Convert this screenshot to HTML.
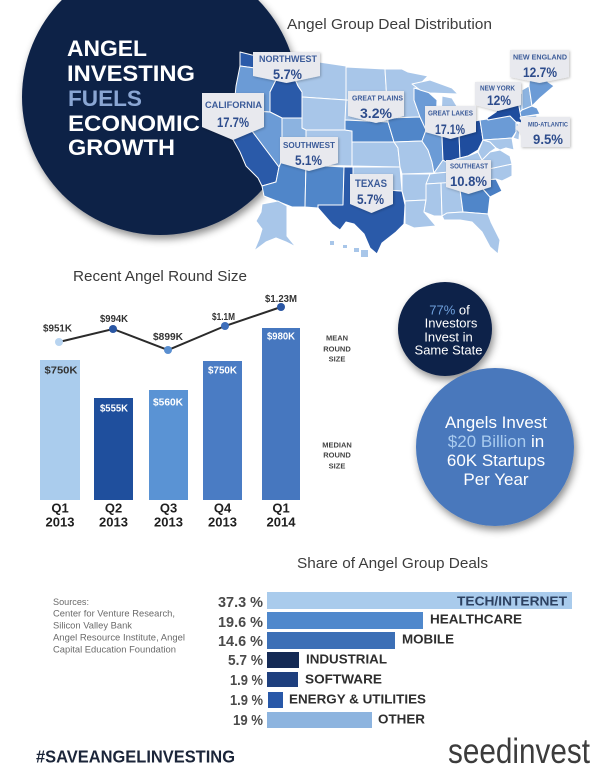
<!DOCTYPE html>
<html><head><meta charset="utf-8"><style>
html,body{margin:0;padding:0;background:#fff;}
svg{display:block;}
text{font-family:"Liberation Sans",Arial,sans-serif;}
</style></head><body>
<svg width="600" height="776" viewBox="0 0 600 776" xmlns="http://www.w3.org/2000/svg">
<defs>
<filter id="sh" x="-20%" y="-20%" width="150%" height="150%"><feDropShadow dx="2" dy="4" stdDeviation="4" flood-color="#000" flood-opacity="0.45"/></filter>
<filter id="sh2" x="-20%" y="-20%" width="150%" height="150%"><feDropShadow dx="1" dy="1" stdDeviation="1.2" flood-color="#000" flood-opacity="0.25"/></filter>
</defs>
<rect width="600" height="776" fill="#fff"/>

<!-- Title circle -->
<circle cx="160" cy="97" r="138" fill="#0e2247" filter="url(#sh)"/>
<g font-weight="bold" font-size="22.5" fill="#fff">
<text x="67" y="56" textLength="80" lengthAdjust="spacingAndGlyphs">ANGEL</text>
<text x="67" y="81" textLength="128" lengthAdjust="spacingAndGlyphs">INVESTING</text>
<text x="68" y="106" textLength="74" lengthAdjust="spacingAndGlyphs" fill="#8aa6d3">FUELS</text>
<text x="68" y="131" textLength="132" lengthAdjust="spacingAndGlyphs">ECONOMIC</text>
<text x="68" y="155" textLength="107" lengthAdjust="spacingAndGlyphs">GROWTH</text>
</g>

<text x="287" y="29" font-size="15" fill="#3d3d3d" textLength="205" lengthAdjust="spacingAndGlyphs">Angel Group Deal Distribution</text>

<!-- Map -->
<g stroke="#fff" stroke-width="1" stroke-linejoin="round">
<polygon fill="#2a5aa9" points="240,52 252,55 286,58 286,70 262,69 240,66"/>
<polygon fill="#6b9bd6" points="240,66 262,69 286,70 276,80 270,92 270,112 252,111 234,106 236,86"/>
<polygon fill="#2a5aa9" points="286,58 292,58 292,72 298,86 302,92 302,118 282,118 270,112 270,92 276,80 286,70"/>
<polygon fill="#2a5aa9" points="234,106 252,111 252,131 279,167 276,182 262,186 258,178 246,166 240,152 231,136 229,120"/>
<polygon fill="#6b9bd6" points="252,111 270,112 282,118 282,160 279,167 252,131"/>
<polygon fill="#8cb3e0" points="282,118 302,118 302,128 306,128 306,163 282,163 282,160"/>
<polygon fill="#a8c6e9" points="292,58 346,66 346,100 302,97 302,92 298,86 292,72"/>
<polygon fill="#a8c6e9" points="302,97 346,100 345,130 306,130 302,128"/>
<polygon fill="#5086c9" points="282,163 306,163 305,207 292,207 264,196 262,186 276,182 279,167 282,160"/>
<polygon fill="#a8c6e9" points="306,130 345,130 352,131 352,166 306,165"/>
<polygon fill="#5086c9" points="306,165 344,167 343,205 318,205 318,208 305,207"/>
<polygon fill="#2a5aa9" points="344,167 353,167 353,186 372,189 402,191 405,205 404,224 396,232 382,243 377,254 370,248 364,234 354,224 346,222 340,230 332,224 318,208 318,205 343,205"/>
<polygon fill="#a8c6e9" points="353,167 400,167 402,191 372,189 353,186"/>
<polygon fill="#a8c6e9" points="352,142 394,142 398,148 400,167 352,166"/>
<polygon fill="#a8c6e9" points="346,67 385,69 387,102 346,100"/>
<polygon fill="#a8c6e9" points="346,100 387,102 388,122 345,120"/>
<polygon fill="#5086c9" points="345,120 388,122 394,142 352,142 352,131 345,130"/>
<polygon fill="#a8c6e9" points="385,69 402,69 408,72 428,76 414,90 414,100 420,117 388,118 387,102"/>
<polygon fill="#5086c9" points="388,118 420,117 426,130 422,141 394,142 388,122"/>
<polygon fill="#a8c6e9" points="394,142 422,141 428,150 432,162 434,173 402,174 400,167 398,148"/>
<polygon fill="#a8c6e9" points="402,174 430,174 426,200 405,201 402,191"/>
<polygon fill="#a8c6e9" points="405,201 426,200 424,212 436,226 414,228 405,224"/>
<polygon fill="#6b9bd6" points="414,88 428,92 437,100 436,128 426,130 420,117 414,100"/>
<polygon fill="#6b9bd6" points="426,130 437,130 442,137 443,160 434,173 432,162 428,150 422,141"/>
<polygon fill="#a8c6e9" points="412,84 430,80 452,88 458,94 430,93 420,90"/>
<polygon fill="#a8c6e9" points="442,96 452,98 458,108 464,116 470,120 464,132 459,134 442,136 441,120"/>
<polygon fill="#1f4d9e" points="442,136 459,134 460,158 446,162 443,160"/>
<polygon fill="#1f4d9e" points="459,124 470,122 480,120 483,140 478,150 468,156 460,158 459,134"/>
<polygon fill="#a8c6e9" points="434,173 443,160 446,162 460,158 468,156 478,152 482,160 474,170 438,173"/>
<polygon fill="#a8c6e9" points="430,174 438,173 474,170 484,170 478,181 426,184"/>
<polygon fill="#a8c6e9" points="426,184 441,183 442,216 434,216 424,212 426,200"/>
<polygon fill="#a8c6e9" points="441,183 459,182 463,212 447,213 442,216"/>
<polygon fill="#5086c9" points="459,182 476,181 490,197 488,214 463,212"/>
<polygon fill="#a8c6e9" points="442,216 447,213 463,212 488,214 491,222 500,240 498,254 490,247 482,232 472,222 460,220 444,220"/>
<polygon fill="#4a7fc4" points="476,181 496,179 502,191 490,197"/>
<polygon fill="#a8c6e9" points="478,181 484,170 512,164 512,176 502,181 496,179 476,181"/>
<polygon fill="#a8c6e9" points="474,170 482,160 490,152 500,150 510,156 512,164 484,170"/>
<polygon fill="#a8c6e9" points="478,152 483,140 490,142 496,148 490,152 482,160"/>
<polygon fill="#6b9bd6" points="480,120 510,116 516,122 516,132 512,138 483,140"/>
<polygon fill="#1f4d9e" points="487,118 496,112 502,102 514,96 518,100 520,112 524,124 518,122 516,122 510,116 488,120"/>
<polygon fill="#a8c6e9" points="516,122 520,126 519,140 513,138 516,132"/>
<polygon fill="#a8c6e9" points="483,140 512,138 514,150 506,148 500,150 496,148 490,142"/>
<polygon fill="#8cb3e0" points="514,96 522,93 522,110 520,112 518,100"/>
<polygon fill="#8cb3e0" points="522,90 529,86 532,106 522,110"/>
<polygon fill="#6b9bd6" points="529,86 530,74 538,70 543,72 548,82 554,86 540,98 532,106"/>
<polygon fill="#6b9bd6" points="520,112 522,110 532,106 537,108 540,114 521,117"/>
<polygon fill="#a8c6e9" points="521,117 537,115 536,122 524,124 520,118"/>
<!-- Alaska & Hawaii -->
<polygon fill="#a8c6e9" points="262,204 278,201 287,206 287,236 296,247 286,242 276,238 266,242 254,251 259,239 262,229 256,221 261,212"/>
<polygon fill="#a8c6e9" stroke="none" points="330,241 334,241 334,245 330,245"/>
<polygon fill="#a8c6e9" stroke="none" points="343,245 347,245 347,248 343,248"/>
<polygon fill="#a8c6e9" stroke="none" points="354,248 359,248 359,252 354,252"/>
<polygon fill="#a8c6e9" stroke="none" points="361,250 368,250 368,257 361,257"/>
</g>

<!-- Callouts -->
<g fill="#e8e9ee" filter="url(#sh2)">
<polygon points="253,52 320,52 320,76 286.5,83 253,76"/>
<polygon points="202,93 264,93 264,127 233,140 202,127"/>
<polygon points="348,91 404,91 404,116 376,123 348,116"/>
<polygon points="280,137 338,137 338,163 309,171 280,163"/>
<polygon points="350,174 393,174 393,204 371.5,213 350,204"/>
<polygon points="425,106 476,106 476,132 450.5,139 425,132"/>
<polygon points="475,82 521,82 521,105 498,111 475,105"/>
<polygon points="510,50 569,50 569,77 539.5,83 510,77"/>
<polygon points="521,117 570,117 570,147 521,147 521,134 515,128 521,122"/>
<polygon points="446,160 491,160 491,187 468.5,194 446,187"/>
</g>
<g font-weight="bold" fill="#3b5b99" text-anchor="middle">
<text x="288" y="62.2" font-size="9" textLength="58" lengthAdjust="spacingAndGlyphs">NORTHWEST</text>
<text x="233.5" y="108.2" font-size="9" textLength="57" lengthAdjust="spacingAndGlyphs">CALIFORNIA</text>
<text x="377.5" y="100.7" font-size="7.5" textLength="51" lengthAdjust="spacingAndGlyphs">GREAT PLAINS</text>
<text x="309" y="148" font-size="8.5" textLength="52" lengthAdjust="spacingAndGlyphs">SOUTHWEST</text>
<text x="371" y="187" font-size="11" textLength="32" lengthAdjust="spacingAndGlyphs">TEXAS</text>
<text x="450.5" y="115.7" font-size="7.5" textLength="45" lengthAdjust="spacingAndGlyphs">GREAT LAKES</text>
<text x="497.5" y="90.7" font-size="7.5" textLength="35" lengthAdjust="spacingAndGlyphs">NEW YORK</text>
<text x="540" y="59.7" font-size="7.5" textLength="54" lengthAdjust="spacingAndGlyphs">NEW ENGLAND</text>
<text x="548" y="126.3" font-size="6.5" textLength="40" lengthAdjust="spacingAndGlyphs">MID-ATLANTIC</text>
<text x="469" y="168.5" font-size="7" textLength="38" lengthAdjust="spacingAndGlyphs">SOUTHEAST</text>
</g>
<g font-weight="bold" fill="#2d4c8c" text-anchor="middle" font-size="14">
<text x="287.5" y="79" textLength="29" lengthAdjust="spacingAndGlyphs">5.7%</text>
<text x="233" y="127" textLength="32" lengthAdjust="spacingAndGlyphs">17.7%</text>
<text x="376" y="118" textLength="32" lengthAdjust="spacingAndGlyphs">3.2%</text>
<text x="308.5" y="165" textLength="27" lengthAdjust="spacingAndGlyphs">5.1%</text>
<text x="370.5" y="204" textLength="27" lengthAdjust="spacingAndGlyphs">5.7%</text>
<text x="450" y="134" textLength="30" lengthAdjust="spacingAndGlyphs">17.1%</text>
<text x="499" y="105" textLength="24" lengthAdjust="spacingAndGlyphs">12%</text>
<text x="540" y="77" textLength="34" lengthAdjust="spacingAndGlyphs">12.7%</text>
<text x="548" y="144" textLength="30" lengthAdjust="spacingAndGlyphs">9.5%</text>
<text x="468.5" y="186" textLength="37" lengthAdjust="spacingAndGlyphs">10.8%</text>
</g>

<!-- Bar chart -->
<text x="73" y="281" font-size="15" fill="#3a3a3a" textLength="174" lengthAdjust="spacingAndGlyphs">Recent Angel Round Size</text>
<rect x="40" y="360" width="40" height="140" fill="#aacced"/>
<rect x="94" y="398" width="39" height="102" fill="#1f4f9d"/>
<rect x="149" y="390" width="39" height="110" fill="#5a93d4"/>
<rect x="203" y="361" width="39" height="139" fill="#4a7cc4"/>
<rect x="262" y="328" width="38" height="172" fill="#4677bf"/>
<g font-weight="bold" font-size="10" text-anchor="middle">
<text x="61" y="373.6" fill="#333" textLength="33" lengthAdjust="spacingAndGlyphs">$750K</text>
<text x="114" y="411.6" fill="#fff" textLength="28" lengthAdjust="spacingAndGlyphs">$555K</text>
<text x="168" y="405.6" fill="#fff" textLength="30" lengthAdjust="spacingAndGlyphs">$560K</text>
<text x="222.5" y="373.6" fill="#fff" textLength="29" lengthAdjust="spacingAndGlyphs">$750K</text>
<text x="281" y="339.6" fill="#fff" textLength="28" lengthAdjust="spacingAndGlyphs">$980K</text>
</g>
<polyline points="59,342 113,329 168,350 225,326 281,307" fill="none" stroke="#2b2b2b" stroke-width="2"/>
<circle cx="59" cy="342" r="4" fill="#b8d4f0"/>
<circle cx="113" cy="329" r="4" fill="#2a56a3"/>
<circle cx="168" cy="350" r="4" fill="#5a8fd0"/>
<circle cx="225" cy="326" r="4" fill="#3f6fbb"/>
<circle cx="281" cy="307" r="4" fill="#2a56a3"/>
<g font-weight="bold" font-size="10" text-anchor="middle" fill="#333">
<text x="57.5" y="331.6" textLength="29" lengthAdjust="spacingAndGlyphs">$951K</text>
<text x="114" y="322" textLength="28" lengthAdjust="spacingAndGlyphs">$994K</text>
<text x="168" y="340" textLength="30" lengthAdjust="spacingAndGlyphs">$899K</text>
<text x="223.5" y="320" textLength="23" lengthAdjust="spacingAndGlyphs">$1.1M</text>
<text x="281" y="302" textLength="32" lengthAdjust="spacingAndGlyphs">$1.23M</text>
</g>
<g font-weight="bold" font-size="7.5" text-anchor="middle" fill="#444">
<text x="337" y="340.7">MEAN</text>
<text x="337" y="351.7">ROUND</text>
<text x="337" y="361.7">SIZE</text>
<text x="337" y="447.7">MEDIAN</text>
<text x="337" y="457.7">ROUND</text>
<text x="337" y="468.7">SIZE</text>
</g>
<g font-weight="bold" font-size="13" text-anchor="middle" fill="#1f1f1f">
<text x="60" y="512.7">Q1</text><text x="60" y="526.7">2013</text>
<text x="113.5" y="512.7">Q2</text><text x="113.5" y="526.7">2013</text>
<text x="168.5" y="512.7">Q3</text><text x="168.5" y="526.7">2013</text>
<text x="222.5" y="512.7">Q4</text><text x="222.5" y="526.7">2013</text>
<text x="281" y="512.7">Q1</text><text x="281" y="526.7">2014</text>
</g>

<!-- Circles -->
<circle cx="445" cy="329" r="47" fill="#0f2349" filter="url(#sh)"/>
<g font-size="13" fill="#fff" text-anchor="middle">
<text x="449.5" y="314.5"><tspan fill="#6fa0dc">77%</tspan> of</text>
<text x="451" y="327.5">Investors</text>
<text x="448.5" y="341.5">Invest in</text>
<text x="448.5" y="354.5">Same State</text>
</g>
<circle cx="495" cy="447" r="79" fill="#4a78bc" filter="url(#sh)"/>
<g font-size="17" fill="#fff" text-anchor="middle">
<text x="496" y="428">Angels Invest</text>
<text x="496" y="447"><tspan fill="#a9cbef">$20 Billion</tspan> in</text>
<text x="496" y="466">60K Startups</text>
<text x="496" y="485">Per Year</text>
</g>

<!-- Share of Angel Group Deals -->
<text x="297" y="568" font-size="15" fill="#3d3d3d" textLength="191" lengthAdjust="spacingAndGlyphs">Share of Angel Group Deals</text>
<g font-size="9" fill="#6a6a6a">
<text x="53" y="605" textLength="36" lengthAdjust="spacingAndGlyphs">Sources:</text>
<text x="53" y="616.5" textLength="122" lengthAdjust="spacingAndGlyphs">Center for Venture Research,</text>
<text x="53" y="628.5" textLength="79" lengthAdjust="spacingAndGlyphs">Silicon Valley Bank</text>
<text x="53" y="640.5" textLength="132" lengthAdjust="spacingAndGlyphs">Angel Resource Institute, Angel</text>
<text x="53" y="652.5" textLength="123" lengthAdjust="spacingAndGlyphs">Capital Education Foundation</text>
</g>
<rect x="267" y="592" width="305" height="17" fill="#a9cbec"/>
<rect x="267" y="612" width="156" height="17" fill="#4f88cc"/>
<rect x="267" y="632" width="128" height="17" fill="#3c6fb6"/>
<rect x="267" y="652" width="32" height="16" fill="#142a55"/>
<rect x="267" y="672" width="31" height="15" fill="#1e3f7e"/>
<rect x="268" y="692" width="15" height="16" fill="#2858a8"/>
<rect x="267" y="712" width="105" height="16" fill="#8db4df"/>
<g font-weight="bold" font-size="14.5" fill="#4a4a4a" text-anchor="end">
<text x="263" y="607.2" textLength="45" lengthAdjust="spacingAndGlyphs">37.3 %</text>
<text x="263" y="627.2" textLength="45" lengthAdjust="spacingAndGlyphs">19.6 %</text>
<text x="263" y="646.2" textLength="45" lengthAdjust="spacingAndGlyphs">14.6 %</text>
<text x="263" y="665.2" textLength="35" lengthAdjust="spacingAndGlyphs">5.7 %</text>
<text x="263" y="685.2" textLength="33" lengthAdjust="spacingAndGlyphs">1.9 %</text>
<text x="263" y="705.2" textLength="33" lengthAdjust="spacingAndGlyphs">1.9 %</text>
<text x="263" y="725.2" textLength="30" lengthAdjust="spacingAndGlyphs">19 %</text>
</g>
<g font-weight="bold" font-size="13" fill="#2e2e2e">
<text x="567" y="605.7" text-anchor="end" fill="#2c4060" textLength="110" lengthAdjust="spacingAndGlyphs">TECH/INTERNET</text>
<text x="430" y="623.7" textLength="92" lengthAdjust="spacingAndGlyphs">HEALTHCARE</text>
<text x="402" y="643.7" textLength="52" lengthAdjust="spacingAndGlyphs">MOBILE</text>
<text x="306" y="663.7" textLength="81" lengthAdjust="spacingAndGlyphs">INDUSTRIAL</text>
<text x="305" y="683.7" textLength="77" lengthAdjust="spacingAndGlyphs">SOFTWARE</text>
<text x="289" y="703.7" textLength="137" lengthAdjust="spacingAndGlyphs">ENERGY &amp; UTILITIES</text>
<text x="378" y="723.7" textLength="47" lengthAdjust="spacingAndGlyphs">OTHER</text>
</g>

<!-- Footer -->
<text x="36" y="762.3" font-weight="bold" font-size="17.5" fill="#1b2539" textLength="199" lengthAdjust="spacingAndGlyphs">#SAVEANGELINVESTING</text>
<text x="448" y="763" font-size="35" fill="#3c3c3c" textLength="142" lengthAdjust="spacingAndGlyphs">seedinvest</text>
</svg>
</body></html>
